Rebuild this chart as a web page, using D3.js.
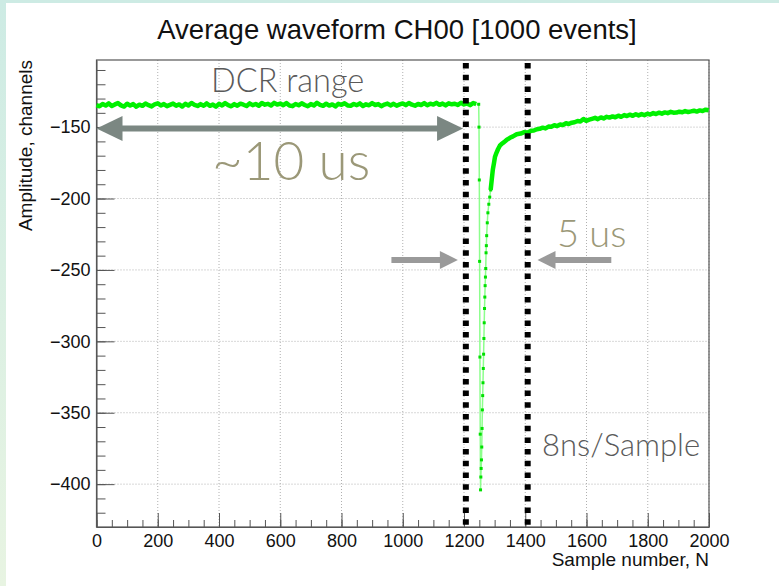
<!DOCTYPE html>
<html>
<head>
<meta charset="utf-8">
<script src="https://cdn.jsdelivr.net/npm/d3@7"></script>
<style>
  body { margin: 0; background: #ffffff; }
  svg text { font-family: "Liberation Sans", Arial, sans-serif; }
  .note { font-family: "Gill Sans", Lato, "Open Sans", sans-serif; font-weight: 300; }
</style>
</head>
<body>
<svg width="779" height="586"></svg>
<script>
// ---- data ----
// flat baseline before the pulse, one value every baseStep samples
var baseStep = 10;
var baseValues = [
  -134.6,-135.4,-133.8,-134.9,-133.4,-135.2,-134.1,-133.2,-134.8,-135.6,
  -133.6,-134.9,-133.9,-135.7,-134.3,-135.1,-133.5,-134.6,-135.5,-134.0,
  -133.3,-134.9,-133.9,-135.3,-134.4,-133.5,-135.0,-134.1,-135.6,-133.7,
  -134.8,-133.1,-134.5,-135.2,-133.9,-135.0,-133.4,-135.1,-134.2,-135.7,
  -133.7,-134.8,-133.2,-134.6,-135.4,-133.9,-135.0,-133.6,-134.3,-135.2,
  -133.4,-134.6,-133.8,-135.0,-133.1,-134.3,-133.7,-134.9,-133.0,-134.2,
  -133.5,-134.6,-133.2,-134.9,-135.3,-133.8,-134.7,-133.3,-134.5,-135.4,
  -133.9,-134.8,-133.0,-134.4,-135.1,-133.6,-134.9,-134.1,-135.5,-133.7,
  -134.4,-133.3,-134.8,-135.0,-133.8,-134.6,-133.4,-135.2,-134.0,-134.7,
  -133.2,-134.5,-133.9,-135.3,-134.2,-133.5,-134.8,-133.7,-135.0,-134.1,
  -133.4,-134.6,-133.1,-134.3,-135.0,-133.8,-134.5,-133.2,-134.7,-133.6,
  -134.2,-133.0,-134.4,-133.5,-134.8,-133.3,-134.0,-133.6,-134.5,-132.9,
  -134.1,-133.4,-134.6,-133.1,-133.9
];

// the pulse itself (fast drop and first part of the recovery)
var pulseSamples = [1240,1248,1249,1250,1251,1252,1253,1254,1255,1256,1257,1258,1259,1260,1261,
  1262,1263,1264,1265,1266,1267,1268,1269,1270,1271,1272,1273,1274,1276,1278,1281,1284,1287];
var pulseValues = [-133.9,-134,-150,-187,-244,-311,-365,-404,-395,-389,-383,-374,-361,-348,-338,
  -329,-319,-309,-298,-287,-277,-269,-261,-255,-249,-238,-233,-226,-217,-210,-204,-199,-194];

// slow recovery tail
var tailSamples = [1287,1291,1294,1298,1301,1306,1311,1317,1324,1331,1339,1350,1360,1372,1385,1397,
  1409,1419,1428,1438,1447,1457,1466,1476,1485,1495,1504,1514,1523,1533,1542,1552,1561,1571,1580,
  1590,1599,1609,1618,1628,1637,1647,1656,1666,1675,1685,1694,1704,1713,1723,1732,1742,1751,1761,
  1770,1780,1789,1799,1808,1818,1827,1837,1846,1856,1865,1875,1884,1894,1903,1913,1922,1932,1941,
  1951,1960,1970,1979,1989,1999];
var tailValues = [-194,-186,-180,-175,-171,-168,-165.5,-163,-161.5,-160.5,-159,-157.5,-156.5,-155,-154.5,-153.5,
  -153.8,-152.6,-152.4,-151.5,-151.2,-150.4,-150.9,-149.6,-149.8,-148.7,-149.3,-148.2,-148.5,-147.3,
  -147.8,-146.9,-146.6,-145.7,-146.0,-144.3,-145.6,-144.8,-144.2,-143.5,-144.4,-143.2,-143.9,-142.8,
  -143.3,-142.5,-143.1,-142.0,-142.8,-141.6,-142.2,-141.3,-142.1,-141.0,-141.8,-140.9,-141.6,-140.6,
  -141.2,-140.2,-140.8,-139.9,-140.6,-139.7,-140.2,-139.3,-139.9,-139.8,-139.2,-139.6,-138.8,-139.4,
  -139.0,-138.5,-139.1,-138.3,-138.7,-137.8,-138.2];

var xMajor = [0,200,400,600,800,1000,1200,1400,1600,1800,2000];
var yMajor = [-150,-200,-250,-300,-350,-400];

// slide annotations, in data units
var markerLines = [1206, 1408];
var bigArrow = {from: 0, to: 1197, value: -151};
var smallArrows = [{from: 963, to: 1180, value: -243}, {from: 1681, to: 1440, value: -243}];

// ---- drawing ----
var svgWidth = 779, svgHeight = 586;
var chartLeft = 96.5, chartRight = 709, chartTop = 60, chartBottom = 527;

var svg = d3.select("svg");

// slide background strips
var grad = svg.append("defs").append("linearGradient")
  .attr("id", "strip").attr("x1", 0).attr("y1", 0).attr("x2", 0).attr("y2", 1);
grad.append("stop").attr("offset", "0").attr("stop-color", "#cdebe4");
grad.append("stop").attr("offset", "1").attr("stop-color", "#e8f4e2");
svg.append("rect").attr("width", svgWidth).attr("height", svgHeight).attr("fill", "url(#strip)");
svg.append("rect").attr("x", 6).attr("y", 3).attr("width", svgWidth - 6).attr("height", svgHeight - 3)
  .attr("fill", "#ffffff");

var x = d3.scaleLinear().domain([0, 2000]).range([chartLeft, chartRight]);
var y = d3.scaleLinear().domain([-430, -103]).range([chartBottom, chartTop]);

// grid
var grid = svg.append("g").attr("stroke", "#b0b0b0").attr("stroke-dasharray", "1,2").attr("stroke-width", 1);
grid.selectAll(null).data(xMajor.slice(1)).enter().append("line")
  .attr("x1", d => x(d)).attr("x2", d => x(d)).attr("y1", chartTop).attr("y2", chartBottom);
grid.selectAll(null).data(yMajor).enter().append("line")
  .attr("x1", chartLeft).attr("x2", chartRight).attr("y1", d => y(d)).attr("y2", d => y(d));

// axes (ROOT style: ticks point inside)
var xMinor = d3.range(0, 2001, 50);
var yMinor = d3.range(-430, -100, 10);

svg.append("g").attr("transform", "translate(0," + chartBottom + ")")
  .call(d3.axisBottom(x).tickValues(xMinor).tickSize(-7).tickSizeOuter(0).tickFormat(""))
  .call(g => g.select(".domain").remove());
var xAxis = svg.append("g").attr("transform", "translate(0," + chartBottom + ")")
  .call(d3.axisBottom(x).tickValues(xMajor).tickSize(-14).tickSizeOuter(0).tickPadding(7).tickFormat(d3.format("d")));
xAxis.selectAll("text").style("font-size", "18px").attr("fill", "#111");

svg.append("g").attr("transform", "translate(" + chartLeft + ",0)")
  .call(d3.axisLeft(y).tickValues(yMinor).tickSize(-9).tickSizeOuter(0).tickFormat(""))
  .call(g => g.select(".domain").remove());
var yAxis = svg.append("g").attr("transform", "translate(" + chartLeft + ",0)")
  .call(d3.axisLeft(y).tickValues(yMajor).tickSize(-18).tickSizeOuter(0).tickPadding(6));
yAxis.selectAll("text").style("font-size", "18px").attr("fill", "#111");

svg.selectAll(".tick line").attr("stroke", "#555");
svg.selectAll(".domain").attr("stroke", "#555");

// frame
svg.append("rect").attr("x", chartLeft).attr("y", chartTop)
  .attr("width", chartRight - chartLeft).attr("height", chartBottom - chartTop)
  .attr("fill", "none").attr("stroke", "#555").attr("stroke-width", 1.2);

// waveform
var line = d3.line().x(d => x(d[0])).y(d => y(d[1]));
var baseData = baseValues.map((v, i) => [i * baseStep, v]);
var pulseData = pulseSamples.map((s, i) => [s, pulseValues[i]]);
var tailData = tailSamples.map((s, i) => [s, tailValues[i]]);

svg.append("path").datum(baseData).attr("d", line)
  .attr("fill", "none").attr("stroke", "#00f000").attr("stroke-width", 4.5).attr("stroke-linejoin", "round");
svg.append("path").datum(pulseData).attr("d", line)
  .attr("fill", "none").attr("stroke", "#8cff8c").attr("stroke-width", 1.5);
svg.append("g").selectAll(null).data(pulseData.slice(1)).enter().append("rect")
  .attr("x", d => x(d[0]) - 1.5).attr("y", d => y(d[1]) - 1.5)
  .attr("width", 3).attr("height", 3).attr("fill", "#00e000");
svg.append("path").datum(tailData).attr("d", line)
  .attr("fill", "none").attr("stroke", "#00f000").attr("stroke-width", 4.5).attr("stroke-linejoin", "round");

// title and axis titles
svg.append("text").attr("x", 397).attr("y", 39).attr("text-anchor", "middle")
  .style("font-size", "27.5px").attr("fill", "#111").text("Average waveform CH00 [1000 events]");
svg.append("text").attr("x", chartRight).attr("y", 566).attr("text-anchor", "end")
  .style("font-size", "19px").attr("fill", "#111").text("Sample number, N");
svg.append("text").attr("transform", "translate(32," + chartTop + ") rotate(-90)").attr("text-anchor", "end")
  .style("font-size", "19px").attr("fill", "#111").text("Amplitude, channels");

// ---- slide overlay ----
// dotted black markers
svg.append("g").selectAll(null).data(markerLines).enter().append("line")
  .attr("x1", d => x(d)).attr("x2", d => x(d)).attr("y1", 63).attr("y2", chartBottom - 2)
  .attr("stroke", "#000").attr("stroke-width", 6).attr("stroke-dasharray", "5.5,6.2");

// arrow head helper
function head(tipX, tipY, dir, len, half) {
  return "M" + tipX + "," + tipY + "L" + (tipX - dir * len) + "," + (tipY - half) +
    "L" + (tipX - dir * len) + "," + (tipY + half) + "Z";
}

// double arrow over the DCR range
var ay = y(bigArrow.value), ax1 = x(bigArrow.from), ax2 = x(bigArrow.to);
svg.append("line").attr("x1", ax1 + 20).attr("x2", ax2 - 20).attr("y1", ay).attr("y2", ay)
  .attr("stroke", "#7b8782").attr("stroke-width", 6);
svg.append("path").attr("d", head(ax1, ay, -1, 26, 12.5)).attr("fill", "#7b8782");
svg.append("path").attr("d", head(ax2, ay, 1, 26, 12.5)).attr("fill", "#7b8782");

// small arrows pointing to the markers
smallArrows.forEach(function(a) {
  var dir = a.to > a.from ? 1 : -1;
  var yy = y(a.value);
  svg.append("line").attr("x1", x(a.from)).attr("x2", x(a.to) - dir * 16).attr("y1", yy).attr("y2", yy)
    .attr("stroke", "#9a9a9a").attr("stroke-width", 6);
  svg.append("path").attr("d", head(x(a.to), yy, dir, 18, 9)).attr("fill", "#9a9a9a");
});

svg.append("text").attr("class", "note").attr("x", 211).attr("y", 92)
  .style("font-size", "32.5px").attr("fill", "#5a5a5a").text("DCR range");
svg.append("text").attr("class", "note").attr("x", 212).attr("y", 180)
  .style("font-size", "53px").attr("fill", "#9b9878").text("~10 us");
svg.append("text").attr("class", "note").attr("x", 557).attr("y", 247)
  .style("font-size", "38px").attr("fill", "#9b9878").text("5 us");
svg.append("text").attr("class", "note").attr("x", 542).attr("y", 456)
  .style("font-size", "31px").attr("fill", "#5a5a5a").text("8ns/Sample");
</script>
</body>
</html>
